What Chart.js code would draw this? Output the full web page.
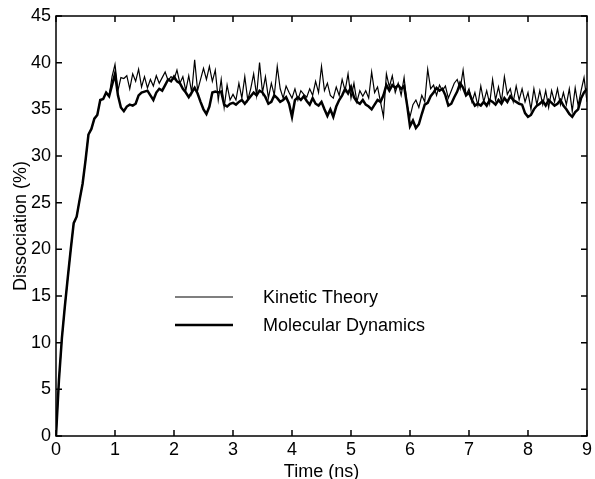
<!DOCTYPE html>
<html>
<head>
<meta charset="utf-8">
<script src="https://cdn.jsdelivr.net/npm/chart.js@4.4.1/dist/chart.umd.min.js"></script>
<style>
  html, body { margin: 0; padding: 0; background: #fff; }
  #wrap { width: 595px; height: 479px; }
</style>
</head>
<body>
<div id="wrap"><canvas id="chart"></canvas></div>
<script>
// Time axis (ns), one sample every 0.05 ns
const timeNs = [
  0.00, 0.05, 0.10, 0.15, 0.20, 0.25, 0.30, 0.35, 0.40, 0.45, 0.50, 0.55, 0.60, 0.65, 0.70, 0.75, 0.80, 0.85, 0.90, 0.95,
  1.00, 1.05, 1.10, 1.15, 1.20, 1.25, 1.30, 1.35, 1.40, 1.45, 1.50, 1.55, 1.60, 1.65, 1.70, 1.75, 1.80, 1.85, 1.90, 1.95,
  2.00, 2.05, 2.10, 2.15, 2.20, 2.25, 2.30, 2.35, 2.40, 2.45, 2.50, 2.55, 2.60, 2.65, 2.70, 2.75, 2.80, 2.85, 2.90, 2.95,
  3.00, 3.05, 3.10, 3.15, 3.20, 3.25, 3.30, 3.35, 3.40, 3.45, 3.50, 3.55, 3.60, 3.65, 3.70, 3.75, 3.80, 3.85, 3.90, 3.95,
  4.00, 4.05, 4.10, 4.15, 4.20, 4.25, 4.30, 4.35, 4.40, 4.45, 4.50, 4.55, 4.60, 4.65, 4.70, 4.75, 4.80, 4.85, 4.90, 4.95,
  5.00, 5.05, 5.10, 5.15, 5.20, 5.25, 5.30, 5.35, 5.40, 5.45, 5.50, 5.55, 5.60, 5.65, 5.70, 5.75, 5.80, 5.85, 5.90, 5.95,
  6.00, 6.05, 6.10, 6.15, 6.20, 6.25, 6.30, 6.35, 6.40, 6.45, 6.50, 6.55, 6.60, 6.65, 6.70, 6.75, 6.80, 6.85, 6.90, 6.95,
  7.00, 7.05, 7.10, 7.15, 7.20, 7.25, 7.30, 7.35, 7.40, 7.45, 7.50, 7.55, 7.60, 7.65, 7.70, 7.75, 7.80, 7.85, 7.90, 7.95,
  8.00, 8.05, 8.10, 8.15, 8.20, 8.25, 8.30, 8.35, 8.40, 8.45, 8.50, 8.55, 8.60, 8.65, 8.70, 8.75, 8.80, 8.85, 8.90, 8.95,
  9.00
];

// Kinetic Theory (thin line), dissociation %
const kineticTheory = [
  0, 6.0, 10.5, 13.9, 17, 20, 22.8, 23.5, 25.3, 27.0, 29.5, 32.3, 32.9, 34.0, 34.4, 36.0, 36.1, 36.8, 36.4, 38.5,
  39.8, 37.0, 38.4, 38.3, 38.6, 37.2, 38.8, 38.0, 39.3, 37.4, 38.5, 37.3, 38.2, 37.5, 38.6, 37.8, 38.4, 39.0, 38.1, 38.5,
  38.2, 39.2, 37.8, 38.5, 37.0, 38.6, 36.8, 40.3, 37.0, 38.2, 39.4, 38.2, 39.6, 38.0, 39.2, 36.0, 38.2, 35.2, 37.6, 36.0,
  36.6, 36.0, 37.8, 36.2, 38.5, 36.0, 37.2, 38.8, 36.5, 40.0, 36.8, 38.5, 36.2, 37.8, 36.5, 39.6, 37.2, 36.2, 37.5, 36.8,
  36.2, 37.2, 36.0, 37.0, 36.6, 36.3, 37.2, 36.5, 38.0, 36.8, 39.6, 37.0, 37.8, 36.5, 36.2, 37.4, 36.5, 38.2, 37.0, 38.8,
  36.2, 37.8, 35.8, 37.0, 36.4, 37.0, 36.2, 39.0, 36.8, 37.4, 35.8, 34.2, 38.8, 37.4, 38.6, 36.8, 37.8, 36.5, 38.4, 35.5,
  34.2, 35.5, 36.0, 35.2, 36.5, 35.8, 39.3, 37.2, 37.6, 36.5, 37.6, 37.0, 37.5, 36.2, 37.0, 37.8, 38.2, 37.2, 39.2, 36.5,
  37.2, 35.8, 36.8, 35.4, 37.5, 35.8, 37.0, 35.6, 38.2, 36.0, 37.4, 35.8, 38.5, 36.6, 37.2, 35.8, 37.5, 36.0, 37.2, 35.8,
  36.8, 35.0, 37.2, 35.5, 37.0, 35.5, 37.0, 35.2, 37.0, 35.8, 37.2, 35.5, 36.8, 35.5, 37.2, 34.8, 37.3, 35.4, 37.0, 38.4,
  35.8
];

// Molecular Dynamics (thick line), dissociation %
const molecularDynamics = [
  0, 6.0, 10.5, 13.9, 17, 20, 22.8, 23.5, 25.3, 27.0, 29.5, 32.3, 32.9, 34.0, 34.4, 36.0, 36.1, 36.8, 36.4, 37.6,
  38.8, 36.5, 35.2, 34.8, 35.3, 35.5, 35.4, 35.6, 36.5, 36.8, 36.9, 37.0, 36.5, 36.0, 36.8, 37.2, 37.0, 37.6, 38.2, 38.0,
  38.5, 38.0, 37.8, 37.2, 36.8, 36.3, 36.8, 37.3, 36.7, 35.8, 35.0, 34.5, 35.3, 36.8, 36.9, 36.8, 36.9, 35.5, 35.3, 35.6,
  35.7, 35.5, 35.8, 36.0, 35.6, 36.0, 36.4, 36.8, 36.5, 37.0, 36.8, 36.3, 35.6, 35.8, 36.5, 36.2, 35.8, 36.0, 36.3, 35.6,
  34.2, 36.0, 36.3, 36.0, 36.4, 35.9, 35.5, 36.2, 35.6, 35.4, 35.8, 35.0, 34.3, 35.0, 34.2, 35.3, 36.0, 36.5, 37.2, 36.7,
  37.4, 36.3, 35.8, 35.6, 36.0, 35.5, 35.3, 35.0, 35.5, 36.0, 35.8, 36.5, 37.6, 37.0, 37.6, 37.3, 37.6, 37.2, 37.5, 35.5,
  33.2, 33.8, 33.0, 33.4, 34.5, 35.5, 35.7, 36.4, 36.8, 37.3, 37.0, 37.2, 36.5, 35.4, 35.6, 36.3, 36.9, 37.8, 37.3, 36.5,
  36.8, 36.0, 35.4, 35.6, 35.4, 35.8, 35.4, 36.0, 35.8, 35.5, 36.0, 35.6, 36.2, 35.8, 36.4, 36.0, 35.8, 35.6, 35.5, 34.6,
  34.2, 34.4, 35.0, 35.4, 35.6, 35.9, 35.4, 36.0, 35.7, 35.4, 35.6, 36.0, 35.4, 35.0, 34.5, 34.2, 34.7, 35.0, 36.2, 36.8,
  37.2
];

const xTicks = [0, 1, 2, 3, 4, 5, 6, 7, 8, 9];
const yTicks = [0, 5, 10, 15, 20, 25, 30, 35, 40, 45];

const FONT = "'Liberation Sans', Arial, Helvetica, sans-serif";

// Box frame with inward ticks on all four sides
const framePlugin = {
  id: "frame",
  afterDatasetsDraw(chart) {
    const { ctx, chartArea: a, scales } = chart;
    ctx.save();
    ctx.strokeStyle = "#000";
    ctx.lineWidth = 1.5;
    ctx.strokeRect(a.left, a.top, a.right - a.left, a.bottom - a.top);
    ctx.beginPath();
    const len = 6;
    xTicks.forEach((v) => {
      const x = scales.x.getPixelForValue(v);
      ctx.moveTo(x, a.bottom); ctx.lineTo(x, a.bottom - len);
      ctx.moveTo(x, a.top); ctx.lineTo(x, a.top + len);
    });
    yTicks.forEach((v) => {
      const y = scales.y.getPixelForValue(v);
      ctx.moveTo(a.left, y); ctx.lineTo(a.left + len, y);
      ctx.moveTo(a.right, y); ctx.lineTo(a.right - len, y);
    });
    ctx.stroke();
    ctx.restore();
  },
};

// Legend drawn inside the plot, like the original figure
const legendPlugin = {
  id: "insideLegend",
  afterDraw(chart) {
    const { ctx } = chart;
    const items = chart.data.datasets;
    ctx.save();
    ctx.font = "18px " + FONT;
    ctx.fillStyle = "#000";
    ctx.textBaseline = "middle";
    items.forEach((ds, i) => {
      const y = 297 + i * 28;
      ctx.beginPath();
      ctx.strokeStyle = "#000";
      ctx.lineWidth = ds.borderWidth;
      ctx.moveTo(175, y); ctx.lineTo(233, y);
      ctx.stroke();
      ctx.fillText(ds.label, 263, y + 1);
    });
    ctx.restore();
  },
};

new Chart(document.getElementById("chart"), {
  type: "line",
  data: {
    datasets: [
      {
        label: "Kinetic Theory",
        data: timeNs.map((t, i) => ({ x: t, y: kineticTheory[i] })),
        borderColor: "#000",
        borderWidth: 1.2,
        pointRadius: 0,
        tension: 0,
        order: 1,
      },
      {
        label: "Molecular Dynamics",
        data: timeNs.map((t, i) => ({ x: t, y: molecularDynamics[i] })),
        borderColor: "#000",
        borderWidth: 2.5,
        pointRadius: 0,
        tension: 0,
        order: 2,
      },
    ],
  },
  options: {
    responsive: true,
    maintainAspectRatio: false,
    animation: false,
    layout: { padding: { top: 16, right: 6, left: 0, bottom: 0 } },
    plugins: { legend: { display: false }, tooltip: { enabled: false } },
    scales: {
      x: {
        type: "linear",
        min: 0,
        max: 9,
        afterBuildTicks: (s) => { s.ticks = xTicks.map((v) => ({ value: v })); },
        afterFit: (s) => { s.height = 43; },
        grid: { display: false, drawTicks: false },
        border: { display: false },
        ticks: { color: "#000", font: { family: FONT, size: 18 }, padding: 3, maxRotation: 0 },
        title: {
          display: true,
          text: "Time (ns)",
          color: "#000",
          font: { family: FONT, size: 18, lineHeight: 0.8 },
          padding: 0,
        },
      },
      y: {
        min: 0,
        max: 45,
        afterBuildTicks: (s) => { s.ticks = yTicks.map((v) => ({ value: v })); },
        afterFit: (s) => { s.width = 56; },
        grid: { display: false, drawTicks: false },
        border: { display: false },
        ticks: { color: "#000", font: { family: FONT, size: 18 }, padding: 5 },
        title: {
          display: true,
          text: "Dissociation (%)",
          color: "#000",
          font: { family: FONT, size: 18, lineHeight: 1.2 },
          padding: { top: 10, bottom: 0 },
        },
      },
    },
  },
  plugins: [framePlugin, legendPlugin],
});
</script>
</body>
</html>
